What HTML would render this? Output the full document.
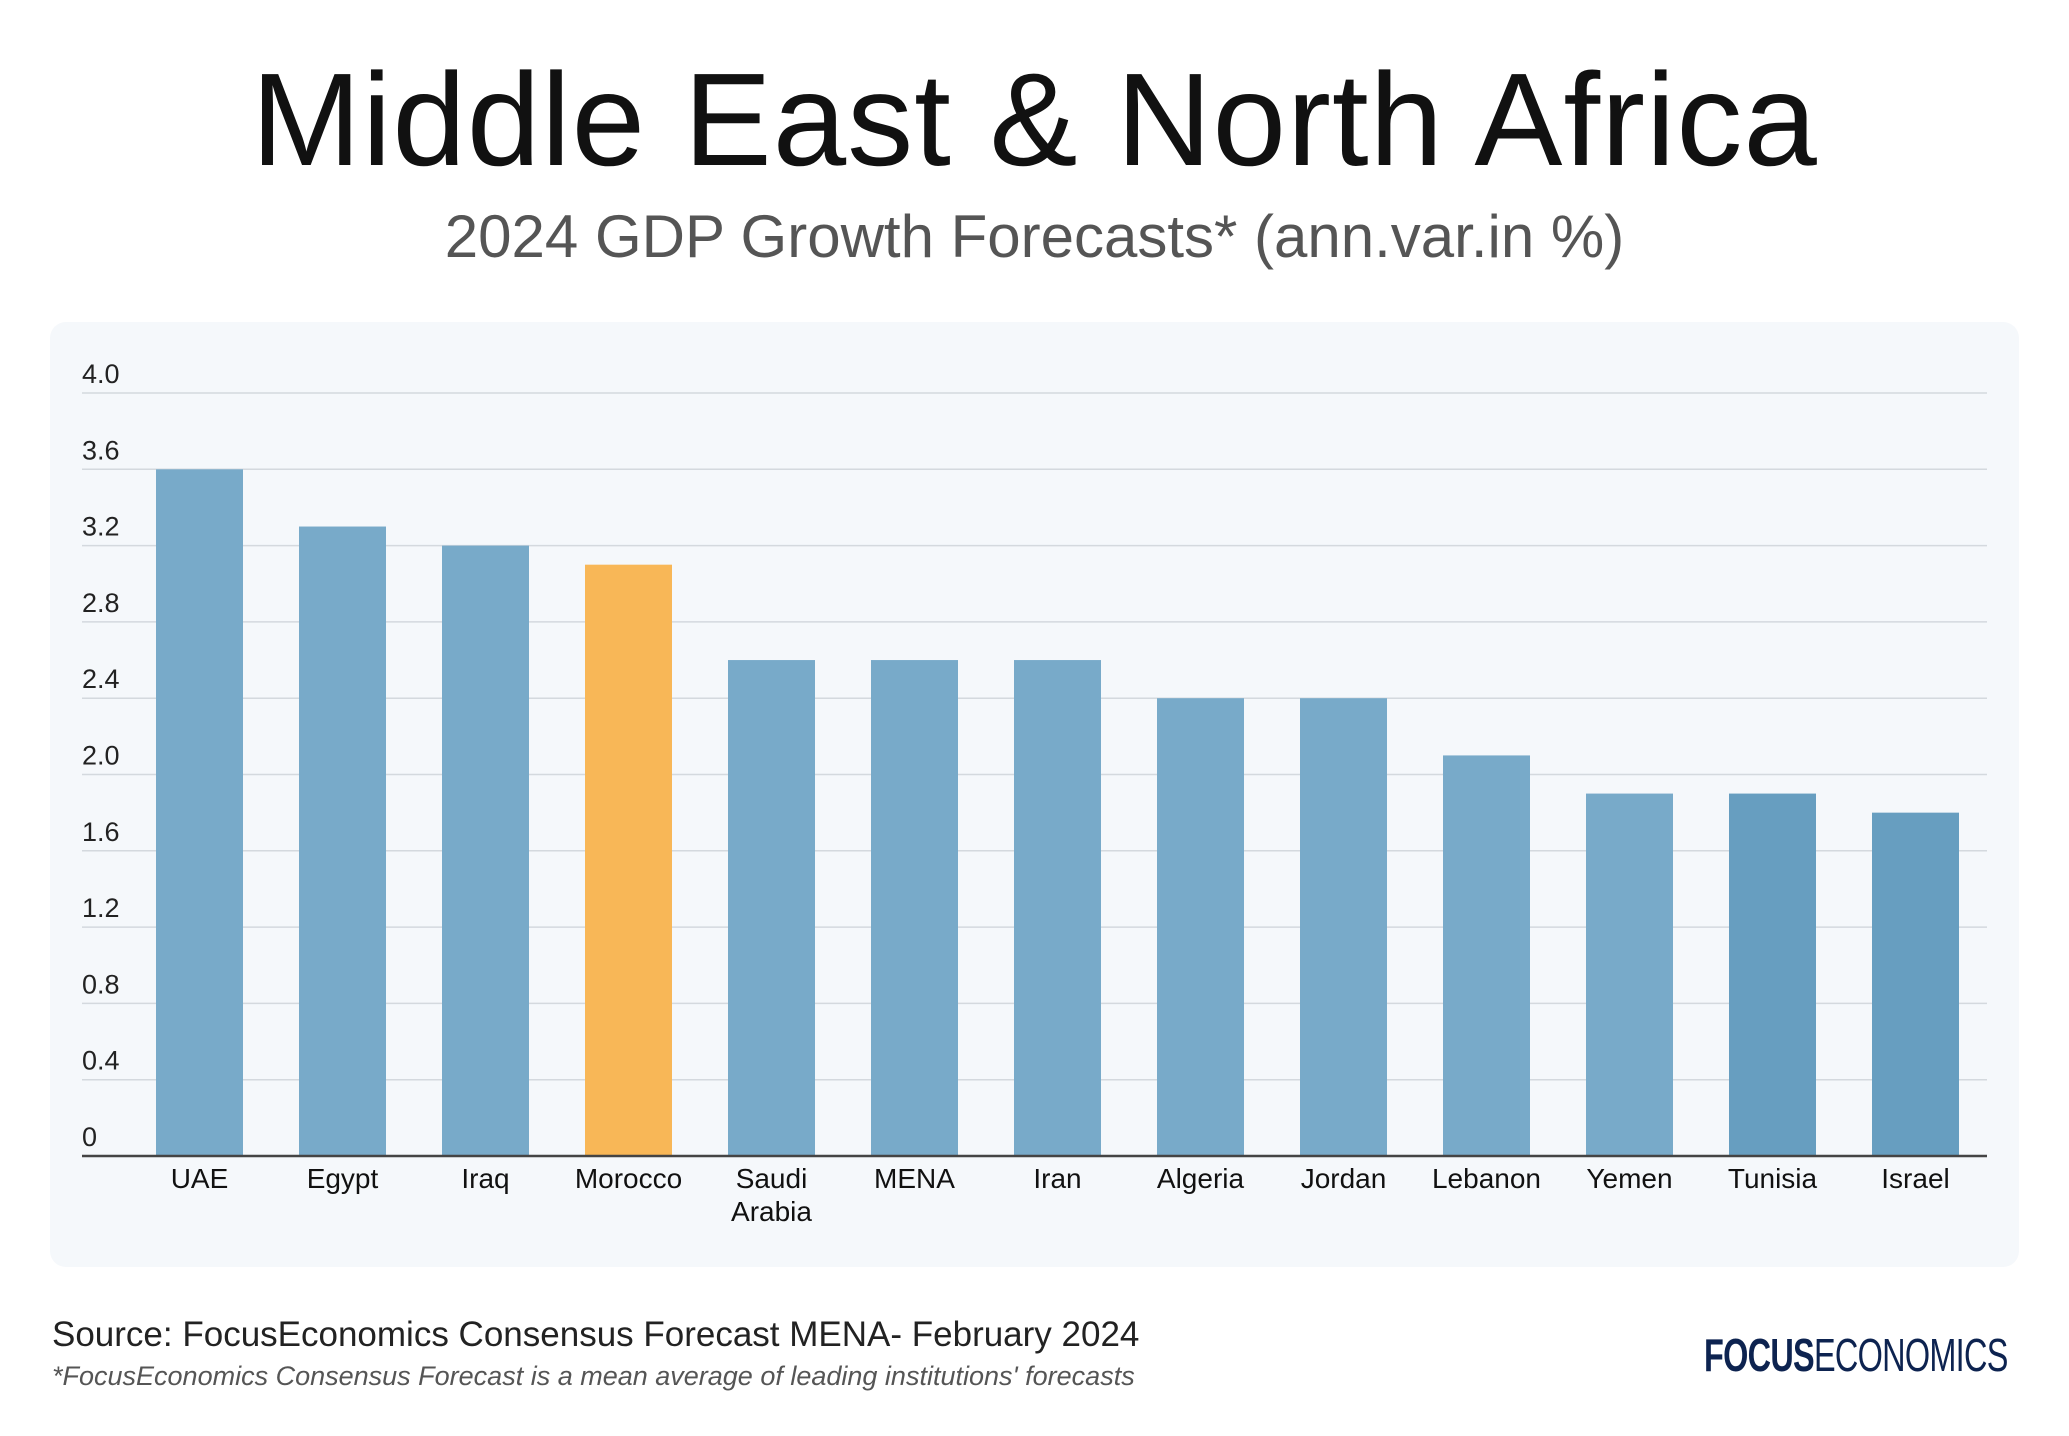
<!DOCTYPE html>
<html><head><meta charset="utf-8">
<style>
body{margin:0;width:2069px;height:1436px;background:#fff;font-family:"Liberation Sans",sans-serif;overflow:hidden;position:relative}
#title{position:absolute;left:0;width:2069px;top:44px;text-align:center;font-size:132px;color:#111;letter-spacing:1px}
#sub{position:absolute;left:0;width:2069px;top:202px;text-align:center;font-size:60px;color:#555}
#panel{position:absolute;left:50px;top:322px;width:1969px;height:945px;background:#f5f8fb;border-radius:16px}
svg{position:absolute;left:0;top:0}
#src{position:absolute;left:52px;top:1315px;font-size:35px;color:#222}
#note{position:absolute;left:52px;top:1361px;font-size:27px;font-style:italic;color:#555}
#logo{position:absolute;left:1704px;top:1328px;font-size:46px;color:#0d2350;letter-spacing:-1px;transform:scaleX(0.705);transform-origin:left top;white-space:nowrap}
</style></head><body>
<div id="title">Middle East &amp; North Africa</div>
<div id="sub">2024 GDP Growth Forecasts* (ann.var.in %)</div>
<div id="panel"></div>
<svg id="chart" width="2069" height="1436"></svg>
<div id="src">Source: FocusEconomics Consensus Forecast MENA- February 2024</div>
<div id="note">*FocusEconomics Consensus Forecast is a mean average of leading institutions' forecasts</div>
<div id="logo"><b style="font-weight:900">FOCUS</b>ECONOMICS</div>
<script>
const categories=["UAE","Egypt","Iraq","Morocco","Saudi|Arabia","MENA","Iran","Algeria","Jordan","Lebanon","Yemen","Tunisia","Israel"];
const values=[3.6,3.3,3.2,3.1,2.6,2.6,2.6,2.4,2.4,2.1,1.9,1.9,1.8];
const colors=["#78aac9","#78aac9","#78aac9","#f8b757","#78aac9","#78aac9","#78aac9","#78aac9","#78aac9","#78aac9","#78aac9","#679ec0","#679ec0"];
const ticks=[0,0.4,0.8,1.2,1.6,2.0,2.4,2.8,3.2,3.6,4.0];
const tickLabels=["0","0.4","0.8","1.2","1.6","2.0","2.4","2.8","3.2","3.6","4.0"];
const svg=document.getElementById('chart');
const NS="http://www.w3.org/2000/svg";
const x0=82,x1=1987,y0=1156,yTop=393,vmax=4.0;
const y=v=>y0-(v/vmax)*(y0-yTop);
const bx=i=>156+i*143;
const bw=87;
function mk(t,a){const e=document.createElementNS(NS,t);for(const k in a)e.setAttribute(k,a[k]);svg.appendChild(e);return e;}
ticks.forEach((t,i)=>{
 if(t>0){const l=mk('line',{x1:x0,x2:x1,y1:y(t),y2:y(t),stroke:'#d4d9de','stroke-width':1.5});
 
 }
 const tx=mk('text',{x:x0,y:y(t)-10,'font-size':27,fill:'#222','font-family':'Liberation Sans, sans-serif'});
 tx.textContent=tickLabels[i];
 
 
});
values.forEach((v,i)=>{
 const r=mk('rect',{x:bx(i),y:y(v),width:bw,height:y0-y(v),fill:colors[i]});
 
 
 const parts=categories[i].split('|');
 parts.forEach((p,j)=>{
  const t=mk('text',{x:bx(i)+bw/2,y:1188+j*33,'font-size':28,fill:'#111','text-anchor':'middle','font-family':'Liberation Sans, sans-serif'});
  t.textContent=p;
  
  
 });
});
const ax=mk('line',{x1:x0,x2:x1,y1:y0,y2:y0,stroke:'#444','stroke-width':2.5});


</script>
</body></html>
